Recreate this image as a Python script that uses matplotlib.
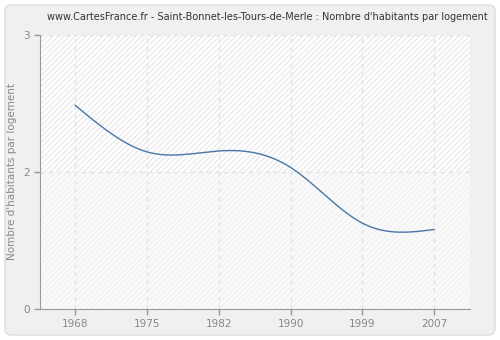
import numpy as np
import matplotlib.pyplot as plt
from matplotlib.patches import FancyBboxPatch, Rectangle

years = [1968, 1975, 1982, 1990, 1999, 2007]
values = [2.23, 1.72, 1.73, 1.55, 0.94, 0.87]
ytick_pos = [0, 1.5, 3]
ytick_labels = ["0", "2", "3"]
title = "www.CartesFrance.fr - Saint-Bonnet-les-Tours-de-Merle : Nombre d'habitants par logement"


def natural_spline(x, y, xs):
    x = np.asarray(x, float)
    y = np.asarray(y, float)
    n = len(x)
    h = np.diff(x)
    A = np.zeros((n, n))
    b = np.zeros(n)
    A[0, 0] = 1
    A[-1, -1] = 1
    for i in range(1, n - 1):
        A[i, i - 1] = h[i - 1]
        A[i, i] = 2 * (h[i - 1] + h[i])
        A[i, i + 1] = h[i]
        b[i] = 3 * ((y[i + 1] - y[i]) / h[i] - (y[i] - y[i - 1]) / h[i - 1])
    c = np.linalg.solve(A, b)
    out = np.zeros_like(xs)
    for j, xv in enumerate(xs):
        i = min(np.searchsorted(x, xv, side="right") - 1, n - 2)
        i = max(i, 0)
        d = (c[i + 1] - c[i]) / (3 * h[i])
        bb = (y[i + 1] - y[i]) / h[i] - h[i] * (2 * c[i] + c[i + 1]) / 3
        t = xv - x[i]
        out[j] = y[i] + bb * t + c[i] * t ** 2 + d * t ** 3
    return out


fig = plt.figure(figsize=(5, 3.4), dpi=100)
fig.patch.set_facecolor("white")
panel = FancyBboxPatch((5, 5), 490, 330, boxstyle="round,pad=0,rounding_size=6",
                       transform=None, facecolor="#f0f0f0", edgecolor="#dcdcdc", lw=1,
                       zorder=-10)
fig.patches.append(panel)

ax = fig.add_axes([0.08, 0.0912, 0.86, 0.806])
ax.set_zorder(1)
ax.set_xlim(-0.49, 5.5)
ax.set_ylim(0, 3)
ax.set_facecolor("#fafafa")

# hatched background, stronger in the upper half
ax.add_patch(Rectangle((-0.49, 1.5), 6, 1.5, facecolor="white", edgecolor="#ebebeb",
                       hatch="//////", lw=0, zorder=0))
ax.add_patch(Rectangle((-0.49, 0), 6, 1.5, facecolor="#fafafa", edgecolor="#f2f2f2",
                       hatch="//////", lw=0, zorder=0))

pos = np.arange(len(years))
for p in pos:
    ax.axvline(p, color="#e2e2e2", lw=1, ls=(0, (3, 3)), zorder=1)
for yv in ytick_pos[1:]:
    ax.axhline(yv, color="#e2e2e2", lw=1, ls=(0, (3, 3)), zorder=1)

xs = np.linspace(0, len(years) - 1, 300)
ax.plot(xs, natural_spline(pos, values, xs), color="#4a76a8", lw=1, zorder=3)

ax.set_xticks(pos)
ax.set_xticklabels([str(y) for y in years])
ax.set_yticks(ytick_pos)
ax.set_yticklabels(ytick_labels)
ax.tick_params(colors="#999999", labelcolor="#888888", labelsize=7.5, length=4, width=1)
for s in ["top", "right"]:
    ax.spines[s].set_visible(False)
for s in ["left", "bottom"]:
    ax.spines[s].set_color("#999999")
ax.set_ylabel("Nombre d'habitants par logement", color="#888888", fontsize=7.5)

fig.text(0.535, 0.95, title, ha="center", va="center", fontsize=7, color="#333333")

fig.savefig("out.png", dpi=100)
